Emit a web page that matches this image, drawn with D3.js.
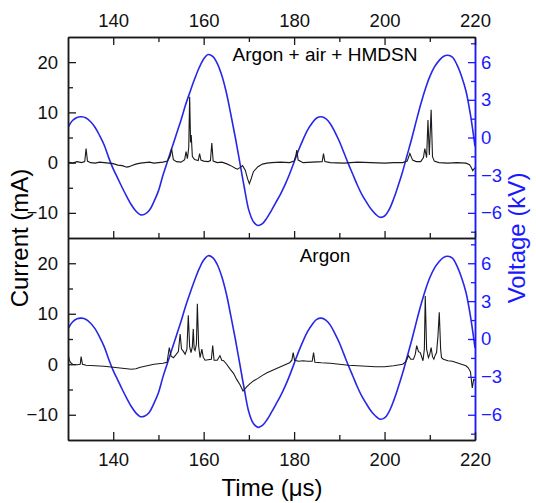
<!DOCTYPE html>
<html>
<head>
<meta charset="utf-8">
<script src="https://d3js.org/d3.v7.min.js"></script>
<style>
  body { margin: 0; background: #fff; }
  text { font-family: "Liberation Sans", Arial, sans-serif; }
</style>
</head>
<body>
<div id="chart"></div>
<script>
// voltage (kV), same drive waveform in both panels, read every 1 us
var voltTime = d3.range(130, 221);
var voltage = [0.8, 1.35, 1.6, 1.65, 1.55, 1.25, 0.8, 0.15, -0.6, -1.6,
  -2.5, -3.25, -4.0, -4.7, -5.35, -5.85, -6.15, -6.1, -5.8, -5.1,
  -4.25, -3.0, -1.9, -0.8, 0.3, 1.4, 2.6, 3.65, 4.65, 5.55,
  6.25, 6.6, 6.45, 5.9, 4.95, 3.6, 1.85, 0.0, -2.0, -4.0,
  -5.8, -6.7, -7.0, -6.85, -6.4, -5.8, -5.15, -4.5, -3.75, -2.9,
  -1.95, -1.0, -0.15, 0.6, 1.15, 1.55, 1.65, 1.5, 1.1, 0.45,
  -0.3, -1.2, -2.1, -2.95, -3.8, -4.55, -5.15, -5.7, -6.1, -6.35,
  -6.25, -5.75, -4.9, -3.85, -2.7, -1.4, -0.1, 1.3, 2.65, 3.85,
  4.85, 5.6, 6.1, 6.45, 6.55, 6.4, 5.8, 4.9, 3.7, 1.8, -0.7];

// current (mA), Argon + air + HMDSN
var timeTop = [130, 131, 132, 133, 133.7, 134.0, 134.3, 135, 136, 137, 138, 139, 140, 141, 142, 143, 143.5, 144, 145, 146,
  147, 148, 149, 150, 151, 152, 152.6, 152.9, 153.3, 154, 155, 155.8, 156.1, 156.4, 156.7, 156.9, 157.1, 157.25, 157.5, 158,
  158.8, 159.1, 159.4, 160, 161, 161.5, 161.8, 162.1, 163, 164, 165, 166, 167, 167.5, 168, 168.6, 169.2, 169.7, 170.1, 170.5,
  171, 172, 173, 174, 175, 177, 179, 180, 180.4, 180.6, 180.9, 182, 184, 186.2, 186.5, 186.8, 188, 191, 194, 197,
  200, 202, 204, 205, 205.6, 206.2, 207, 208, 208.6, 208.9, 209.3, 209.6, 209.9, 210.3, 210.6, 211, 212, 214, 216, 218,
  218.8, 219.2, 219.5, 220];
var currentTop = [0.1, -0.1, 0.2, 0.0, 0.2, 2.8, 0.3, 0.0, -0.1, 0.1, 0.0, -0.1, -0.2, -0.5, -0.6, -0.9, -0.8, -0.6, -0.3, -0.1,
  0.0, 0.1, -0.1, 0.0, 0.1, 0.3, 1.3, 2.8, 0.6, 0.2, 0.1, 0.6, 2.2, 0.8, 3.0, 13.1, 4.0, 5.5, 1.2, 0.6,
  0.4, 1.8, 0.5, 0.3, 0.2, 0.4, 3.9, 0.3, 0.0, 0.1, -0.2, -0.6, -1.1, -1.3, -1.0, -0.6, -1.5, -3.2, -4.2, -3.2,
  -1.8, -0.8, -0.3, -0.1, 0.0, 0.1, 0.0, 0.3, 1.5, 2.5, 0.5, 0.0, 0.1, 0.2, 1.8, 0.2, 0.0, -0.1, 0.1, 0.0,
  -0.1, 0.0, 0.0, 0.3, 1.8, 0.5, 0.2, 0.2, 1.0, 2.8, 1.0, 8.5, 1.5, 10.5, 1.2, 0.3, 0.0, -0.1, 0.0, -0.1,
  -0.4, -1.0, -1.6, -1.0];

// current (mA), Argon
var timeBot = [130, 130.3, 130.6, 131, 132, 132.7, 132.9, 133.2, 134, 136, 138, 140, 142, 144, 145, 146, 147, 148, 149, 150,
  151, 151.9, 152.4, 152.8, 153.3, 153.8, 154.4, 154.8, 155.1, 155.4, 155.9, 156.3, 156.6, 156.9, 157.2, 157.5, 157.7, 157.9, 158.1, 158.4,
  158.6, 158.9, 159.2, 159.6, 159.9, 160.3, 161, 161.7, 162.0, 162.3, 163, 163.6, 164, 164.4, 165, 165.9, 166.6, 167.3, 168, 168.7,
  169.5, 170.2, 171, 172, 173, 174, 175, 176, 177, 178, 179, 179.5, 179.8, 180.1, 181, 182, 183, 184, 184.3, 184.6,
  186, 188, 190, 192, 194, 196, 198, 200, 202, 204, 204.7, 205.3, 205.8, 206.4, 206.8, 207.1, 207.5, 207.9, 208.5, 208.8,
  209.0, 209.3, 209.7, 210.0, 210.3, 210.6, 210.9, 211.2, 211.5, 211.8, 212.1, 212.4, 212.6, 213, 214, 215, 216, 217, 218, 218.5,
  219, 219.4, 219.7, 220];
var currentBot = [2.0, 0.8, 0.3, 0.0, -0.1, 0.0, 1.5, 0.0, -0.2, -0.3, -0.4, -0.6, -0.8, -1.0, -0.9, -0.6, -0.4, -0.2, 0.0, 0.1,
  0.2, 0.4, 3.3, 1.6, 1.3, 1.8, 2.5, 6.0, 3.0, 2.7, 2.0, 3.0, 9.7, 3.5, 2.3, 3.5, 7.0, 3.0, 2.7, 4.0,
  12.0, 3.5, 1.3, 3.0, 1.4, 0.8, 0.9, 1.0, 3.7, 0.8, 0.8, 1.7, 0.8, 0.7, 0.1, -1.0, -1.8, -3.0, -4.0, -5.3,
  -4.5, -3.9, -3.3, -2.8, -2.2, -1.7, -1.3, -0.9, -0.5, -0.1, 0.3, 0.8, 2.3, 0.8, 0.6, 0.7, 0.6, 0.6, 2.3, 0.4,
  0.3, 0.2, 0.0, -0.2, -0.3, -0.4, -0.5, -0.5, -0.3, 0.0, 0.5, 1.7, 1.0, 1.0, 2.0, 3.7, 2.5, 2.3, 0.7, 3.0,
  13.5, 3.0, 1.3, 2.0, 3.3, 1.5, 1.0, 1.8, 2.3, 5.5, 10.3, 3.0, 1.3, 1.0, 0.7, 0.6, 0.3, 0.0, -0.3, -0.7,
  -1.5, -4.7, -3.0, -3.2];

var panelLabels = ["Argon + air + HMDSN", "Argon"];
var timeTicks = [140, 160, 180, 200, 220];
var timeMinor = [150, 170, 190, 210];
var currentTicks = [-10, 0, 10, 20];
var currentMinor = [-5, 5, 15];
var voltTicks = [-6, -3, 0, 3, 6];
var voltMinor = [-7.5, -4.5, -1.5, 1.5, 4.5, 7.5];

var W = 536, H = 503;
var left = 68, right = 475;
var panels = [{top: 37, bottom: 238}, {top: 238, bottom: 440}];
var blue = "#1a1aff", lineBlue = "#2727e8", black = "#1a1a1a";

var svg = d3.select("#chart").append("svg")
  .attr("width", W).attr("height", H);

var x = d3.scaleLinear().domain([130, 220]).range([left, right]);

var sets = [
  {t: timeTop, c: currentTop},
  {t: timeBot, c: currentBot}
];

panels.forEach(function (p, i) {
  var y = d3.scaleLinear().domain([-15, 25]).range([p.bottom, p.top]);
  var yv = d3.scaleLinear().domain([-8, 8]).range([p.bottom, p.top]);

  svg.append("clipPath").attr("id", "clip" + i)
    .append("rect").attr("x", left).attr("y", p.top)
    .attr("width", right - left).attr("height", p.bottom - p.top);

  var g = svg.append("g").attr("clip-path", "url(#clip" + i + ")");

  var vline = d3.line()
    .x(function (d, k) { return x(voltTime[k]); })
    .y(function (d) { return yv(d); })
    .curve(d3.curveCatmullRom);
  g.append("path").datum(voltage)
    .attr("d", vline)
    .attr("fill", "none").attr("stroke", lineBlue).attr("stroke-width", 1.6);

  var s = sets[i];
  var cline = d3.line()
    .x(function (d, k) { return x(s.t[k]); })
    .y(function (d) { return y(d); });
  g.append("path").datum(s.c)
    .attr("d", cline)
    .attr("fill", "none").attr("stroke", black).attr("stroke-width", 1.1);

  // left axis
  var la = svg.append("g").attr("class", "ax").attr("transform", "translate(" + left + ",0)")
    .call(d3.axisLeft(y).tickValues(currentTicks).tickSize(-8).tickSizeOuter(0).tickPadding(10));
  svg.append("g").attr("class", "ax minor").attr("transform", "translate(" + left + ",0)")
    .call(d3.axisLeft(y).tickValues(currentMinor).tickSize(-5).tickSizeOuter(0).tickFormat(""));

  // right voltage axis
  svg.append("g").attr("class", "ax volt").attr("transform", "translate(" + right + ",0)")
    .call(d3.axisRight(yv).tickValues(voltTicks).tickSize(-7).tickSizeOuter(0).tickPadding(6));
  svg.append("g").attr("class", "ax volt minor").attr("transform", "translate(" + right + ",0)")
    .call(d3.axisRight(yv).tickValues(voltMinor).tickSize(-4).tickSizeOuter(0).tickFormat(""));

  svg.append("text")
    .attr("x", 325).attr("y", p.top + 24)
    .attr("text-anchor", "middle")
    .style("font-size", "19px")
    .text(panelLabels[i]);
});

// top axis of upper panel
svg.append("g").attr("class", "ax").attr("transform", "translate(0," + panels[0].top + ")")
  .call(d3.axisTop(x).tickValues(timeTicks).tickSize(-8).tickSizeOuter(0).tickPadding(10));
svg.append("g").attr("class", "ax minor").attr("transform", "translate(0," + panels[0].top + ")")
  .call(d3.axisTop(x).tickValues(timeMinor).tickSize(-5).tickSizeOuter(0).tickFormat(""));

// bottom edge of upper panel (ticks only)
svg.append("g").attr("class", "ax").attr("transform", "translate(0," + panels[0].bottom + ")")
  .call(d3.axisBottom(x).tickValues(timeTicks).tickSize(-7).tickSizeOuter(0).tickFormat(""));
svg.append("g").attr("class", "ax minor").attr("transform", "translate(0," + panels[0].bottom + ")")
  .call(d3.axisBottom(x).tickValues(timeMinor).tickSize(-5).tickSizeOuter(0).tickFormat(""));

// bottom axis of lower panel
svg.append("g").attr("class", "ax").attr("transform", "translate(0," + panels[1].bottom + ")")
  .call(d3.axisBottom(x).tickValues(timeTicks).tickSize(-8).tickSizeOuter(0).tickPadding(13));
svg.append("g").attr("class", "ax minor").attr("transform", "translate(0," + panels[1].bottom + ")")
  .call(d3.axisBottom(x).tickValues(timeMinor).tickSize(-5).tickSizeOuter(0).tickFormat(""));

svg.selectAll(".ax path.domain").attr("stroke", black).attr("stroke-width", 1.5);
svg.selectAll(".ax line").attr("stroke", black).attr("stroke-width", 1.3);
svg.selectAll(".ax text").attr("fill", "#111").style("font-size", "18.5px")
  .style("font-family", "'Liberation Sans', Arial, sans-serif");
svg.selectAll(".ax.volt path.domain").attr("stroke", blue);
svg.selectAll(".ax.volt line").attr("stroke", blue);
svg.selectAll(".ax.volt text").attr("fill", blue);

// axis titles
svg.append("text")
  .attr("transform", "translate(28,238) rotate(-90)")
  .attr("text-anchor", "middle").style("font-size", "24px")
  .text("Current (mA)");
svg.append("text")
  .attr("transform", "translate(525,238) rotate(-90)")
  .attr("text-anchor", "middle").style("font-size", "24px")
  .attr("fill", blue)
  .text("Voltage (kV)");
svg.append("text")
  .attr("x", 272).attr("y", 496)
  .attr("text-anchor", "middle").style("font-size", "24px")
  .text("Time (\u03bcs)");
</script>
</body>
</html>
